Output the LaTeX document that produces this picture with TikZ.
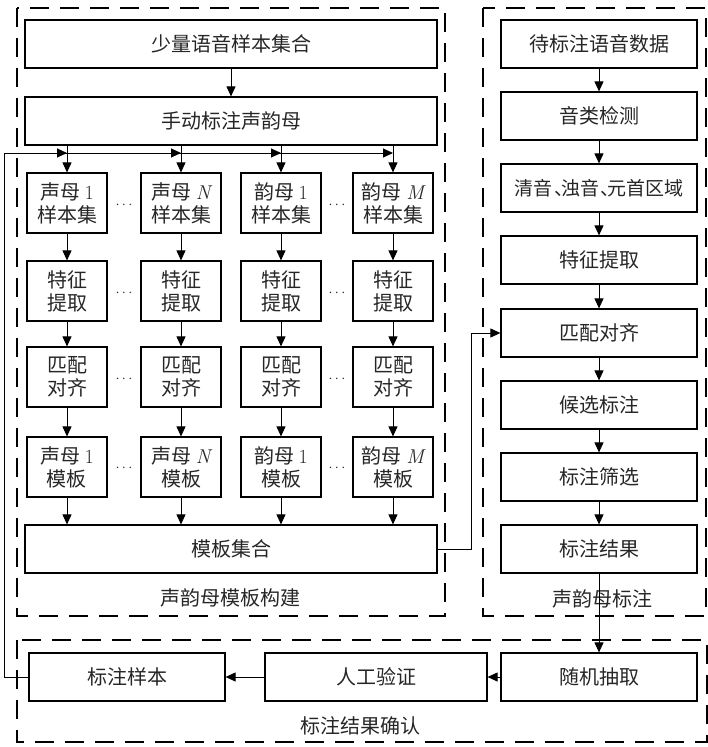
\documentclass[tikz,border=0pt]{standalone}
\usepackage{fontspec}
\newfontfamily\cjk{Noto Sans CJK SC}
\newcommand{\lat}[1]{{\rmfamily #1}}
\usetikzlibrary{arrows.meta,calc}

\begin{document}
\begin{tikzpicture}[x=1pt, y=-1pt,
  box/.style={rectangle, draw, line width=1.2pt, align=center, text=black!85,
    font=\cjk\fontsize{20}{23}\selectfont, inner sep=1pt},
  wide/.style={box, minimum width=412pt, minimum height=48pt},
  cell/.style={box, minimum width=80pt, minimum height=60pt},
  step box/.style={box, minimum width=196pt, minimum height=48pt},
  dots/.style={font=\Large, text=black!85},
  frame/.style={line width=1.2pt, dash pattern=on 19pt off 11pt},
  title/.style={font=\cjk\fontsize{20}{23}\selectfont, text=black!85},
  arrow/.style={-{Triangle[length=10pt, width=9pt]}, line width=1pt},
  line/.style={line width=1pt},
]
\useasboundingbox (0,0) rectangle (708,747);

% === dashed frames ===
\draw[frame] (17,8) rectangle (445,616);
\draw[frame] (483,8) rectangle (706,616);
\draw[frame] (17,640) rectangle (707,742);

\node[title] (tbuild) at (230,598) {声韵母模板构建};
\node[title] (tlabel) at (602,599) {声韵母标注};
\node[title] (tcheck) at (360,726) {标注结果确认};

% === template building (left) ===
\node[wide] (src) at (231,44) {少量语音样本集合};
\node[wide] (manual) at (231,121) {手动标注声韵母};

\node[cell] (sa) at (67,203) {声母 \lat{1}\\样本集};
\node[cell] (sb) at (181,203) {声母 \lat{\itshape N}\\样本集};
\node[cell] (sc) at (281,203) {韵母 \lat{1}\\样本集};
\node[cell] (sd) at (393,203) {韵母 \lat{\itshape M}\\样本集};

\node[cell] (fa) at (67,291) {特征\\提取};
\node[cell] (fb) at (181,291) {特征\\提取};
\node[cell] (fc) at (281,291) {特征\\提取};
\node[cell] (fd) at (393,291) {特征\\提取};

\node[cell] (ma) at (67,377) {匹配\\对齐};
\node[cell] (mb) at (181,377) {匹配\\对齐};
\node[cell] (mc) at (281,377) {匹配\\对齐};
\node[cell] (md) at (393,377) {匹配\\对齐};

\node[cell] (ta) at (67,467) {声母 \lat{1}\\模板};
\node[cell] (tb) at (181,467) {声母 \lat{\itshape N}\\模板};
\node[cell] (tc) at (281,467) {韵母 \lat{1}\\模板};
\node[cell] (td) at (393,467) {韵母 \lat{\itshape M}\\模板};

\node[wide] (tset) at (231,549) {模板集合};

\foreach \y in {205,293,379,468} {
  \node[dots] at (124,\y) {$\cdots$};
  \node[dots] at (337,\y) {$\cdots$};
}

% === labelling (right) ===
\node[step box] (raw) at (599,44) {待标注语音数据};
\node[step box, font=\cjk\fontsize{19}{23}\selectfont] (region) at (599,188)
  {清音\hspace{0.1em}、\hspace{-0.65em}浊音\hspace{0.1em}、\hspace{-0.65em}元首区域};
\node[step box] (detect) at (599,116) {音类检测};
\node[step box] (rfeat) at (599,260) {特征提取};
\node[step box] (rmatch) at (599,333) {匹配对齐};
\node[step box] (cand) at (599,405) {候选标注};
\node[step box] (filt) at (599,477) {标注筛选};
\node[step box] (result) at (599,549) {标注结果};

% === result check (bottom) ===
\node[step box] (pick) at (599,677) {随机抽取};
\node[box, minimum width=222pt, minimum height=48pt] (verify) at (376,677) {人工验证};
\node[step box] (samp) at (127,677) {标注样本};

% === connectors ===
\draw[arrow] (src) -- (manual);
\foreach \c/\f/\m/\t in {sa/fa/ma/ta, sb/fb/mb/tb, sc/fc/mc/tc, sd/fd/md/td} {
  \draw[arrow] (manual.south -| \c.north) -- (\c.north);
  \draw[arrow] (\c) -- (\f);
  \draw[arrow] (\f) -- (\m);
  \draw[arrow] (\m) -- (\t);
  \draw[arrow] (\t.south) -- (\t.south |- tset.north);
}

\draw[arrow] (raw) -- (detect);
\draw[arrow] (detect) -- (region);
\draw[arrow] (region) -- (rfeat);
\draw[arrow] (rfeat) -- (rmatch);
\draw[arrow] (rmatch) -- (cand);
\draw[arrow] (cand) -- (filt);
\draw[arrow] (filt) -- (result);
\draw[arrow] (tset.east) -- ++(34,0) |- (rmatch.west);

\draw[arrow] (result) -- (pick);
\draw[arrow] (pick) -- (verify);
\draw[arrow] (verify) -- (samp);

% feedback of checked samples
\coordinate (back) at (4,153);
\draw[line] (samp.west) -| (back);
\foreach \c in {sa,sb,sc,sd}
  \draw[arrow] (back) -- (back -| \c.north);
\end{tikzpicture}
\end{document}
